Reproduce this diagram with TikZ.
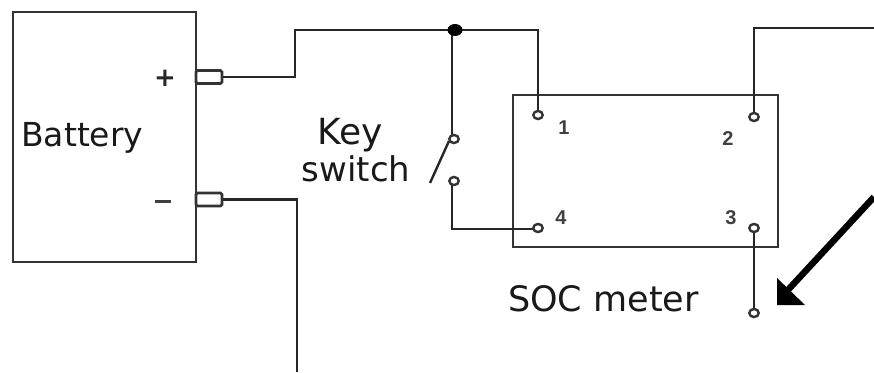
\documentclass[tikz,border=0pt]{standalone}
\usepackage{fontspec}
\setmainfont{DejaVu Sans}
\newfontfamily\pinfont{Liberation Sans}
\usetikzlibrary{arrows.meta}
\tikzset{
  wire/.style={draw=black!85,line width=2.4pt},
  boxline/.style={draw=black!80,line width=2.7pt},
  term/.style={circle,draw=black!80,line width=2.4pt,fill=white,minimum width=9.5pt,minimum height=9.5pt,inner sep=0pt,yscale=0.85},
  lbl/.style={inner sep=0pt,text=black!90},
  pin/.style={inner sep=0pt,text=black!75,font=\pinfont\bfseries\fontsize{20}{20}\selectfont},
  tab/.style={draw=black!80,line width=2.8pt,fill=white,rounded corners=1.5pt,minimum width=26pt,minimum height=13pt,inner sep=0pt}
}
\begin{document}
\begin{tikzpicture}[x=1pt,y=-1pt]
\useasboundingbox (0,0) rectangle (874,372);
% coordinates
\coordinate (a1) at (295,77);
\coordinate (a2) at (295,30);
\coordinate (a3) at (538,30);
\coordinate (b1) at (452,229);
\coordinate (c1) at (754,28);
\coordinate (c2) at (874,28);
\coordinate (d1) at (297,199.5);
\coordinate (d2) at (297,372);
\coordinate (e1) at (874,197);
\coordinate (e2) at (787,291);
\coordinate (s1) at (430,183);
\coordinate (s2) at (449,141);
% boxes
\node[boxline,draw,minimum width=183pt,minimum height=250pt,inner sep=0pt] (bat) at (104.5,137) {};
\node[boxline,draw,minimum width=265pt,minimum height=152pt,inner sep=0pt] (soc) at (645.5,171) {};
\node[tab] (tp) at (209,77) {};
\node[tab] (tm) at (209,199.5) {};
% wires
\draw[wire] (tp.east) -- (a1) -- (a2) -- (a3) -- (538,115);
\draw[wire] (452,30) -- (452,135);
\draw[wire] (452,185) -- (b1) -- (538,229);
\draw[wire] (754,117) -- (c1) -- (c2);
\draw[wire] (754,228) -- (754,313);
\draw[wire] (tm.east) -- (d1) -- (d2);
\draw[wire,line width=2.4pt] (s1) -- (s2);
% terminals
\node[term] (t1) at (538,115) {};
\node[term] (t2) at (754,117) {};
\node[term] (t3) at (754,228) {};
\node[term] (t4) at (538,228) {};
\node[term] (t5) at (754,313) {};
\node[term] (k1) at (454,139) {};
\node[term] (k2) at (454,181) {};
\node[circle,fill=black,minimum width=15pt,minimum height=15pt,inner sep=0pt,yscale=0.8] (dot) at (455,30) {};
% arrow
\draw[line width=6.5pt] (e1) -- (e2);
\fill[black] (777,305) -- (777,278) -- (805,305) -- cycle;
% labels
\node[lbl,font=\fontsize{33}{33}\selectfont,anchor=base west] (lb) at (21,146) {Battery};
\node[lbl,font=\fontsize{36}{36}\selectfont,anchor=base] (kk) at (350,144) {Key};
\node[lbl,font=\fontsize{34}{34}\selectfont,anchor=base] (ks) at (356,181.5) {switch};
\node[lbl,font=\fontsize{35}{35}\selectfont,anchor=base west] (sm) at (508,311) {SOC meter};
\node[inner sep=0pt,font=\bfseries\fontsize{26}{26}\selectfont,text=black!85] (pl) at (165,78) {+};
\node[fill=black!75,minimum width=16pt,minimum height=3pt,inner sep=0pt] (mi) at (163,201) {};
\node[pin] (n1) at (564,128) {1};
\node[pin] (n2) at (728,139) {2};
\node[pin] (n3) at (731,218) {3};
\node[pin] (n4) at (561,218) {4};
\end{tikzpicture}
\end{document}
